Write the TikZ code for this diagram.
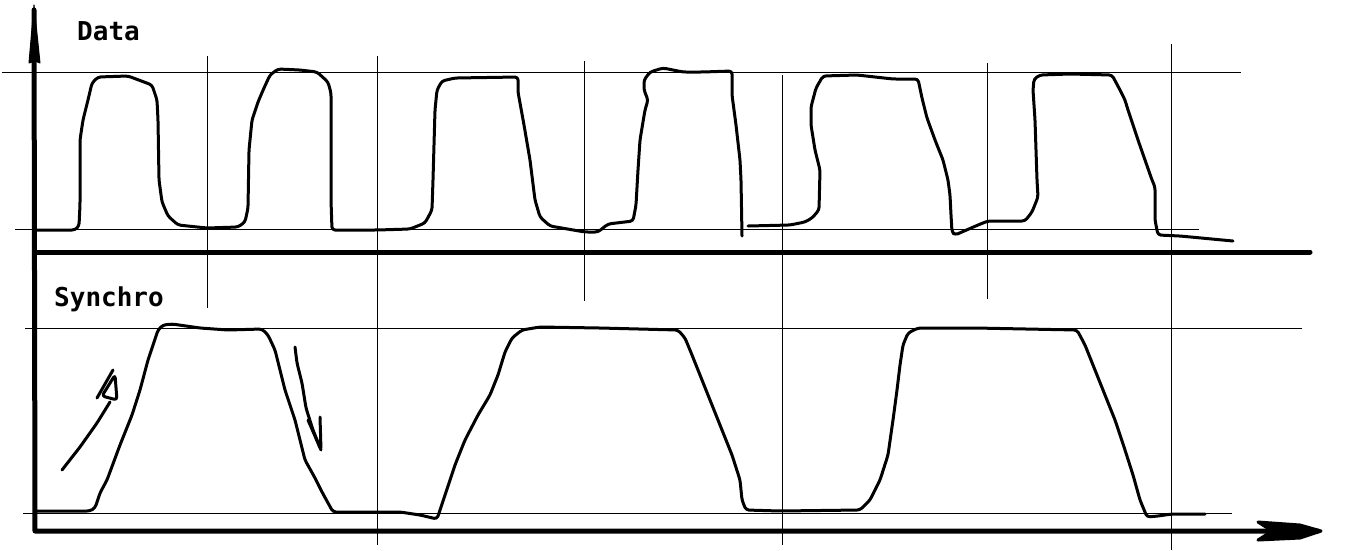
\documentclass[tikz,border=0pt]{standalone}
\usepackage{fontspec}
\setmonofont{DejaVu Sans Mono}
\usetikzlibrary{arrows.meta}
\begin{document}
\begin{tikzpicture}[x=1pt,y=-1pt,
 gridline/.style={line width=1pt},
 axis/.style={line width=5pt, line cap=round, line join=round},
 wave/.style={line width=3pt, line cap=round, line join=round, rounded corners=3pt},
 lbl/.style={font=\ttfamily\bfseries\fontsize{26}{26}\selectfont, inner sep=0pt, anchor=base west}]
\useasboundingbox[fill=white] (0,0) rectangle (1346,550);

% grid
\draw[gridline] (2,72) -- (1241,72);
\draw[gridline] (15,229) -- (1199,229);
\draw[gridline] (25,328) -- (1302,328);
\draw[gridline] (23,513) -- (1232,513);
\draw[gridline] (207,56) -- (207,308);
\draw[gridline] (377,56) -- (377,545);
\draw[gridline] (584,61) -- (584,301);
\draw[gridline] (782,75) -- (782,545);
\draw[gridline] (987,63) -- (987,299);
\draw[gridline] (1171,44) -- (1171,550);

% axes
\draw[axis] (34,10) -- (35,531) -- (1318,531);
\draw[axis] (35,252) -- (1310,252);
\filldraw[line width=1pt, line join=round] (34,5) -- (40,63) -- (35,61) -- (29,63) -- cycle;
\filldraw[line width=3pt, line join=round] (1258,522) -- (1300,525) -- (1321,531) -- (1300,538) -- (1258,540) -- (1272,531) -- cycle;

% labels
\node[lbl] (data) at (77,40) {Data};
\node[lbl] (sync) at (54,306) {Synchro};

% data waveform
\draw[wave] (35,230) -- (75,230) -- (79,226) -- (80,205) -- (80,140) -- (83,120) -- (88,100) -- (92,83) -- (98,77) -- (128,76) -- (152,85) -- (157,100) -- (158,120) -- (159,180) -- (162,202) -- (168,216) -- (178,225) -- (207,228) -- (238,227) -- (245,222) -- (248,208) -- (249,150) -- (252,120) -- (258,102) -- (264,88) -- (270,75) -- (278,69) -- (300,70) -- (317,72) -- (328,82) -- (331,93) -- (331,200) -- (332,230) -- (377,230) -- (410,229) -- (425,223) -- (432,210) -- (433,180) -- (435,110) -- (437,90) -- (442,81) -- (455,78) -- (518,77) -- (518,92) -- (524,125) -- (530,160) -- (535,200) -- (540,217) -- (550,226) -- (585,232) -- (598,232) -- (608,224) -- (633,221) -- (636,205) -- (638,170) -- (640,140) -- (645,110) -- (648,100) -- (644,90) -- (644,80) -- (650,72) -- (663,68) -- (683,72) -- (703,72) -- (732,71) -- (732,95) -- (736,125) -- (740,160) -- (741,180) -- (742,236);
\draw[wave] (748,226) -- (790,225) -- (805,222) -- (812,218) -- (819,210) -- (820,170) -- (815,150) -- (811,125) -- (811,107) -- (816,88) -- (823,76) -- (857,75) -- (893,79) -- (918,79) -- (922,98) -- (927,118) -- (935,140) -- (943,160) -- (948,180) -- (950,195) -- (951,215) -- (952,232) -- (955,235) -- (978,225) -- (988,221) -- (1025,221) -- (1032,212) -- (1038,197) -- (1037,180) -- (1035,120) -- (1033,90) -- (1034,79) -- (1040,75) -- (1070,74) -- (1112,75) -- (1120,90) -- (1125,100) -- (1128,110) -- (1138,140) -- (1145,160) -- (1152,180) -- (1155,187) -- (1155,220) -- (1158,235) -- (1180,236) -- (1233,241);

% synchro waveform
\draw[wave] (35,511) -- (90,511) -- (95,508) -- (100,493) -- (107,480) -- (120,445) -- (132,415) -- (140,390) -- (148,360) -- (158,330) -- (163,325) -- (172,324) -- (200,328) -- (228,330) -- (262,329) -- (268,335) -- (275,350) -- (285,390) -- (295,420) -- (305,460) -- (315,478) -- (322,492) -- (333,512) -- (400,512) -- (420,515) -- (437,519) -- (445,495) -- (455,465) -- (465,440) -- (478,415) -- (490,395) -- (498,375) -- (505,352) -- (512,338) -- (522,330) -- (540,327) -- (600,328) -- (678,330) -- (685,338) -- (692,355) -- (700,375) -- (710,400) -- (722,430) -- (732,455) -- (740,480) -- (742,500) -- (746,510) -- (780,511) -- (860,510) -- (870,500) -- (880,480) -- (888,455) -- (893,420) -- (897,390) -- (900,365) -- (903,345) -- (908,333) -- (918,328) -- (975,328) -- (1077,330) -- (1085,345) -- (1095,370) -- (1105,395) -- (1115,420) -- (1125,450) -- (1133,475) -- (1140,500) -- (1147,517) -- (1158,516) -- (1172,514) -- (1205,514);

% hand-drawn arrows
\draw[wave] (62,470) -- (80,447) -- (97,423) -- (110,402);
\draw[wave] (102,396) -- (115,375) -- (117,400) -- cycle;
\draw[wave] (97,398) -- (113,370);
\draw[wave] (295,347) -- (297,363) -- (302,383) -- (306,408) -- (313,430) -- (321,450);
\draw[wave] (308,420) -- (321,450) -- (320,417);
\end{tikzpicture}
\end{document}
